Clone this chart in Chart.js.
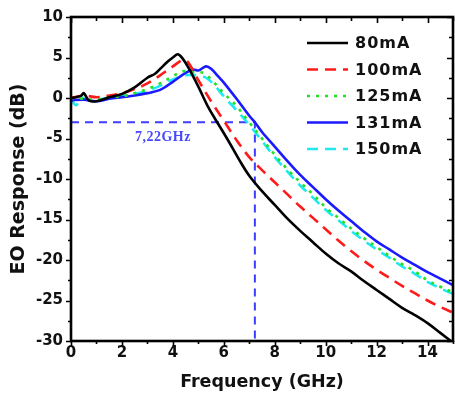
<!DOCTYPE html>
<html>
<head>
<meta charset="utf-8">
<script src="https://cdn.jsdelivr.net/npm/chart.js@4/dist/chart.umd.min.js"></script>
<style>
  html, body { margin: 0; padding: 0; background: #ffffff; }
  #wrap { width: 455px; height: 399px; position: relative; }
</style>
</head>
<body>
<div id="wrap"><canvas id="eo"></canvas></div>
<script>
// Frequency response of the laser at several bias currents (GHz, dB)
const freq80  = [0,0.2,0.4,0.5,0.7,1.0,1.5,2.0,2.5,3.0,3.3,3.5,3.8,4.0,4.2,4.4,4.6,5.0,5.4,5.8,6.2,6.6,7.0,7.5,8.0,8.5,9.0,9.5,10.0,10.5,11.0,11.5,12.0,12.5,13.0,13.5,14.0,14.5,15.0];
const resp80  = [0,0.1,0.3,0.6,-0.3,-0.4,0.1,0.5,1.3,2.5,3.0,3.6,4.5,5.0,5.4,4.8,3.8,1.4,-1.2,-3.3,-5.4,-7.6,-9.6,-11.5,-13.2,-14.9,-16.4,-17.8,-19.2,-20.4,-21.4,-22.6,-23.7,-24.8,-25.9,-26.8,-27.8,-29.0,-30.2];

const freq100 = [0,0.5,1,1.5,2,2.5,3,3.5,4,4.4,4.6,5,5.5,6,6.5,7,7.5,8,8.5,9,9.5,10,10.5,11,11.5,12,12.5,13,13.5,14,14.5,15];
const resp100 = [0,0.3,0.1,0.3,0.6,1.1,1.8,2.8,3.9,4.7,4.4,2.2,-0.4,-2.8,-5.2,-7.3,-8.9,-10.4,-11.9,-13.4,-14.8,-16.2,-17.6,-18.9,-20.1,-21.2,-22.2,-23.2,-24.1,-25.0,-25.8,-26.5];

const freq125 = [0,0.5,1,1.5,2,2.5,3,3.5,4,4.4,4.8,5.2,5.5,6,6.5,7,7.5,8,8.5,9,9.5,10,10.5,11,11.5,12,12.5,13,13.5,14,14.5,15];
const resp125 = [0,-0.1,-0.2,0.1,0.2,0.6,1.1,1.8,2.7,3.3,3.2,3.1,2.3,0.6,-1.0,-3.0,-5.0,-7.0,-8.8,-10.4,-11.9,-13.5,-14.8,-16.1,-17.3,-18.4,-19.5,-20.5,-21.4,-22.5,-23.3,-24.0];

const freq131 = [0,0.5,1,1.5,2,2.5,3,3.5,4,4.5,4.8,5.0,5.3,5.5,5.8,6.0,6.5,7.0,7.22,7.5,8,8.5,9,9.5,10,10.5,11,11.5,12,12.5,13,13.5,14,14.5,15];
const resp131 = [-0.3,-0.2,-0.4,-0.1,0.1,0.3,0.6,1.0,2.0,3.1,3.5,3.4,3.9,3.6,2.6,1.9,-0.1,-2.2,-3.0,-4.2,-6.0,-7.8,-9.5,-11.0,-12.5,-13.9,-15.2,-16.5,-17.7,-18.7,-19.7,-20.6,-21.5,-22.3,-23.1];

const freq150 = [0,0.2,0.4,0.7,1,1.5,2,2.5,3,3.5,4,4.5,5,5.3,5.6,6,6.5,7,7.5,8,8.5,9,9.5,10,10.5,11,11.5,12,12.5,13,13.5,14,14.5,15];
const resp150 = [-0.1,-0.9,0.0,-0.3,-0.2,0,0.2,0.5,0.9,1.5,2.3,2.8,2.8,2.5,1.7,0.2,-1.5,-3.3,-5.3,-7.3,-9.1,-10.8,-12.3,-13.8,-15.1,-16.4,-17.6,-18.7,-19.7,-20.8,-21.7,-22.7,-23.5,-24.2];

const seriesLabels = ['80mA', '100mA', '125mA', '131mA', '150mA'];

// -3 dB bandwidth marker for the 131 mA curve
const cutoffFreq = 7.22;
const cutoffLevel = -3;
const cutoffText = '7,22GHz';

// axis ranges and tick labels
const xMin = 0, xMax = 15, xStep = 2;
const yMin = -30, yMax = 10, yStep = 5;
const xTickValues = [0, 2, 4, 6, 8, 10, 12, 14];

const pts = (xs, ys) => xs.map((x, i) => ({ x: x, y: ys[i] }));

const styles = [
  { color: '#000000', dash: [] },
  { color: '#ff1a1a', dash: [11, 7] },
  { color: '#22e022', dash: [3, 6] },
  { color: '#1a1aff', dash: [] },
  { color: '#1ee8f0', dash: [11, 7] }
];

const curveData = [pts(freq80, resp80), pts(freq100, resp100), pts(freq125, resp125), pts(freq131, resp131), pts(freq150, resp150)];

const datasets = curveData.map((d, i) => ({
  label: seriesLabels[i],
  data: d,
  borderColor: styles[i].color,
  borderDash: styles[i].dash,
  borderWidth: 2.6,
  pointRadius: 0,
  tension: 0.35,
  fill: false,
  order: 2 + i
}));

// dashed guide lines marking the -3 dB point
datasets.push({
  label: 'cutoff',
  data: [{ x: xMin, y: cutoffLevel }, { x: cutoffFreq, y: cutoffLevel }, { x: cutoffFreq, y: yMin }],
  borderColor: '#3d3dff',
  borderDash: [8, 6],
  borderWidth: 2,
  pointRadius: 0,
  tension: 0,
  fill: false,
  order: 10
});

const FONT = "'DejaVu Sans', 'Liberation Sans', Arial, sans-serif";

// frame, tick marks, legend and the bandwidth label
const framePlugin = {
  id: 'frame',
  afterDatasetsDraw(chart) {
    const ctx = chart.ctx;
    const a = chart.chartArea;
    const xs = chart.scales.x, ys = chart.scales.y;
    ctx.save();
    ctx.strokeStyle = '#000';
    ctx.lineCap = 'butt';
    ctx.lineWidth = 1.6;
    ctx.beginPath();
    for (let v = xMin; v <= xMax; v += 1) {
      const px = Math.round(xs.getPixelForValue(v)) + 0.5;
      const major = v % 2 === 0;
      ctx.moveTo(px, a.bottom); ctx.lineTo(px, a.bottom + (major ? 5 : 3));
      ctx.moveTo(px, a.top); ctx.lineTo(px, a.top + (major ? 6 : 4));
    }
    for (let v = yMin; v <= yMax; v += 2.5) {
      const py = Math.round(ys.getPixelForValue(v)) + 0.5;
      const major = v % 5 === 0;
      ctx.moveTo(a.left, py); ctx.lineTo(a.left - (major ? 5 : 3), py);
      ctx.moveTo(a.right, py); ctx.lineTo(a.right - (major ? 6 : 4), py);
    }
    ctx.stroke();
    ctx.lineWidth = 2.6;
    ctx.strokeRect(a.left, a.top, a.right - a.left, a.bottom - a.top);

    // legend
    const lx0 = 307, lx1 = 348, tx = 355, ty0 = 43, dy = 26.5;
    ctx.font = 'bold 16px ' + FONT;
    ctx.textBaseline = 'middle';
    ctx.textAlign = 'left';
    if ('letterSpacing' in ctx) ctx.letterSpacing = '1px';
    chart.data.datasets.slice(0, 5).forEach((ds, i) => {
      const y = ty0 + i * dy;
      ctx.strokeStyle = ds.borderColor;
      ctx.lineWidth = 2.6;
      ctx.setLineDash(ds.borderDash);
      ctx.beginPath();
      ctx.moveTo(lx0, y); ctx.lineTo(lx1, y);
      ctx.stroke();
      ctx.setLineDash([]);
      ctx.fillStyle = '#111';
      ctx.fillText(ds.label, tx, y + 1);
    });

    // bandwidth label under the -3 dB line
    ctx.font = 'bold 14px "Liberation Serif", "DejaVu Serif", serif';
    ctx.fillStyle = '#4848ff';
    ctx.textAlign = 'center';
    if ('letterSpacing' in ctx) ctx.letterSpacing = '0.5px';
    ctx.fillText(cutoffText, xs.getPixelForValue(cutoffFreq / 2), ys.getPixelForValue(cutoffLevel) + 15);
    if ('letterSpacing' in ctx) ctx.letterSpacing = '0px';
    ctx.restore();
  }
};

new Chart(document.getElementById('eo'), {
  type: 'line',
  data: { datasets: datasets },
  options: {
    responsive: true,
    maintainAspectRatio: false,
    animation: false,
    events: [],
    layout: { padding: { top: 14, right: 2, left: 8, bottom: 6 } },
    plugins: { legend: { display: false }, tooltip: { enabled: false } },
    scales: {
      x: {
        type: 'linear',
        min: xMin, max: xMax,
        grid: { display: false, drawTicks: false },
        border: { display: false },
        afterBuildTicks(s) { s.ticks = xTickValues.map(v => ({ value: v })); },
        ticks: { stepSize: xStep, color: '#111', padding: 3, font: { family: FONT, size: 15, weight: 'bold' } },
        title: { display: true, text: 'Frequency (GHz)', color: '#111', padding: 0, font: { family: FONT, size: 17.5, weight: 'bold' } },
        afterFit(s) { s.height = 52; s.paddingRight = 0; }
      },
      y: {
        type: 'linear',
        min: yMin, max: yMax,
        grid: { display: false, drawTicks: false },
        border: { display: false },
        ticks: { stepSize: yStep, color: '#111', padding: 8, font: { family: FONT, size: 15, weight: 'bold' } },
        title: { display: true, text: 'EO Response (dB)', color: '#111', padding: 0, font: { family: FONT, size: 19, weight: 'bold' } },
        afterFit(s) { s.width = 63; }
      }
    }
  },
  plugins: [framePlugin]
});
</script>
</body>
</html>
